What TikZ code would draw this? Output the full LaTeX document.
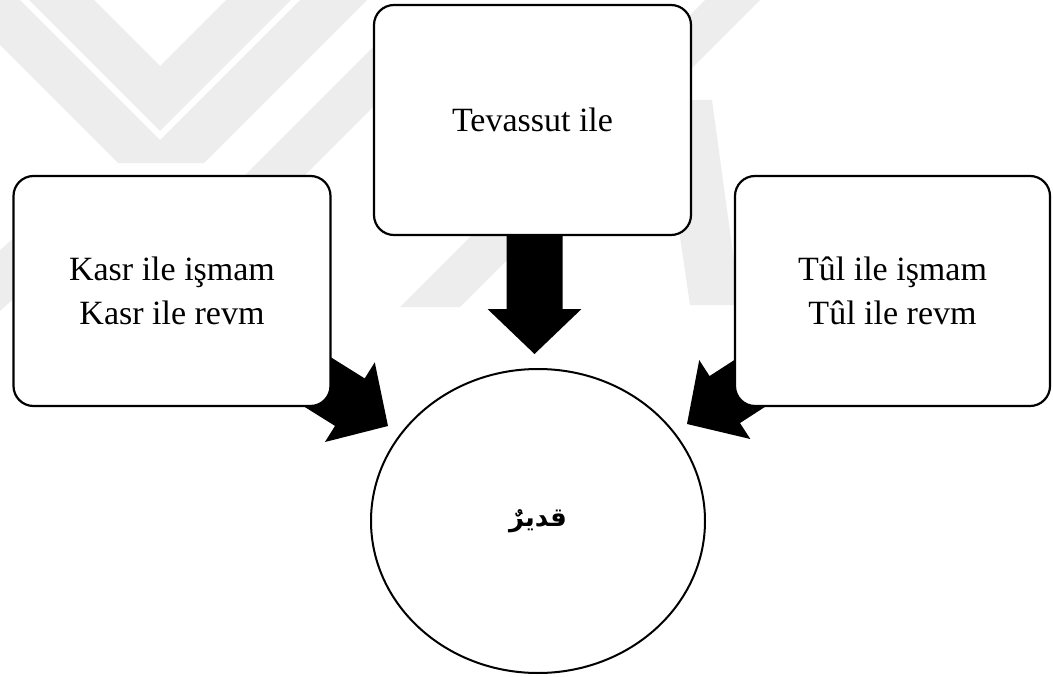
\documentclass[tikz,border=0pt]{standalone}
\usepackage{fontspec}
\setmainfont{Liberation Serif}
\newfontfamily\arabicfont[Script=Arabic]{DejaVu Sans}
\TeXXeTstate=1
\usetikzlibrary{calc,shapes.geometric,backgrounds}

\tikzset{
  wmband/.style={fill=black!7, draw=none},
  card/.style={draw, line width=2.2pt, rounded corners=20pt, fill=white,
    align=center, inner sep=0pt, minimum width=317pt, minimum height=230pt,
    font=\fontsize{34}{44}\selectfont},
  hub/.style={draw, ellipse, line width=2pt, fill=white, inner sep=0pt,
    minimum width=334pt, minimum height=304pt},
  blockfill/.style={fill=black, draw=none}
}

% thick block arrow from #1 to the tip #2
\newcommand{\blockarrow}[2]{%
  \coordinate (ba-h) at ($(#2)!45pt!(#1)$);
  \fill[blockfill] ($(#1)!28pt!90:(#2)$) -- ($(ba-h)!28pt!90:(#2)$)
    -- ($(ba-h)!47pt!90:(#2)$) -- (#2) -- ($(ba-h)!47pt!-90:(#2)$)
    -- ($(ba-h)!28pt!-90:(#2)$) -- ($(#1)!28pt!-90:(#2)$) -- cycle;}

\begin{document}
\begin{tikzpicture}[x=1pt,y=-1pt]
\useasboundingbox (0,0) rectangle (1053,677);

% faint background emblem
\begin{pgfonlayer}{background}
\begin{scope}
  \clip (0,0) rectangle (1053,677);
  \fill[wmband] (29,0) -- (160,131) -- (291,0) -- (226,0) -- (160,66) -- (94,0) -- cycle;
  \fill[wmband] (0,45) -- (118,163) -- (204,163) -- (367,0) -- (300,0) -- (160,140) -- (20,0) -- (0,0) -- cycle;
  \fill[wmband] (245,175) -- (305,175) -- (380,100) -- (380,40) -- cycle;
  \fill[wmband] (400,307) -- (460,307) -- (540,227) -- (480,227) -- cycle;
  \fill[wmband] (660,100) -- (712,100) -- (740,305) -- (690,305) -- cycle;
  \fill[wmband] (705,0) -- (760,0) -- (680,80) -- (680,25) -- cycle;
  \fill[wmband] (0,250) -- (40,215) -- (40,275) -- (0,311) -- cycle;
\end{scope}
\end{pgfonlayer}

% boxes and the central ellipse
\node[card] (tevassut) at (532.5,120) {Tevassut ile};
\node[card] (kasr) at (172,291) {Kasr ile işmam\\Kasr ile revm};
\node[card, minimum width=315pt] (tul) at (892.5,291) {Tûl ile işmam\\Tûl ile revm};
\node[hub] (kadir) at (538,521)
  {\arabicfont\bfseries\fontsize{26}{30}\selectfont\beginR قديرٌ\endR};

% arrow tips
\coordinate (tipD) at (534.5,354);
\coordinate (tipL) at (388,426);
\coordinate (tipR) at (687,424);
\coordinate (tailD) at (tipD |- tevassut.center);

% block arrows, drawn beneath the boxes
\begin{pgfonlayer}{background}
  \blockarrow{tailD}{tipD}
  \blockarrow{kasr.center}{tipL}
  \blockarrow{tul.center}{tipR}
\end{pgfonlayer}
\end{tikzpicture}
\end{document}
